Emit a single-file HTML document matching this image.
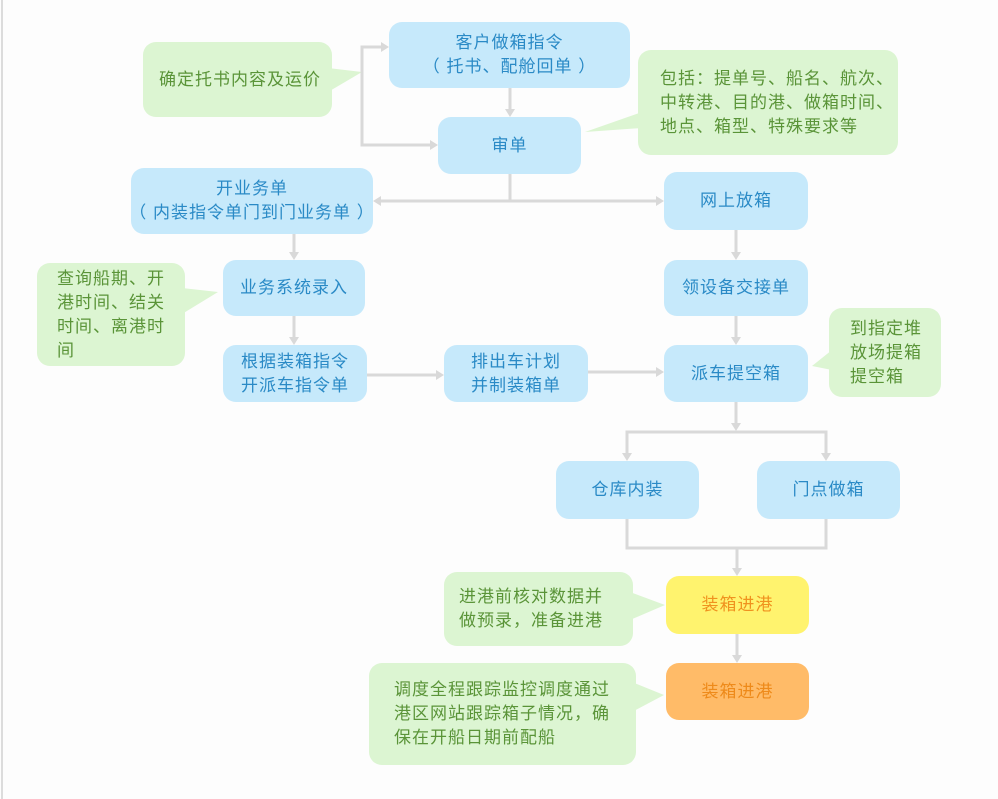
<!DOCTYPE html>
<html><head><meta charset="utf-8"><style>
html,body{margin:0;padding:0;background:#fff;}
#w{position:relative;width:998px;height:799px;overflow:hidden;background:#fdfdfd;font-family:"Liberation Sans","Noto Sans CJK SC",sans-serif;}
.b{position:absolute;display:flex;align-items:center;justify-content:center;text-align:center;border-radius:13px;font-size:17px;letter-spacing:1px;line-height:24px;box-sizing:border-box;white-space:nowrap;}
.n{background:#c6e9fb;color:#2a8ac6;}
.c{background:#dcf5d2;color:#5a9438;text-align:left;justify-content:flex-start;padding-left:16px;}
svg{position:absolute;left:0;top:0;}
</style></head><body><div id="w">
<svg width="998" height="799">
<line x1="2" y1="0" x2="2" y2="799" stroke="#dcdcdc" stroke-width="2"/>
<g fill="#dcf5d2">
<polygon points="328,68 362,72 328,92"/>
<polygon points="642,112 585,132 642,128"/>
<polygon points="182,288 218,292 182,314"/>
<polygon points="832,350 812,366 832,370"/>
<polygon points="630,592 665,605 630,620"/>
<polygon points="632,682 664,695 632,712"/>
</g>
<g stroke="#d9d9d9" stroke-width="3" fill="none">
<polyline points="386,47 362,47 362,145 435,145"/>
<line x1="510" y1="88" x2="510" y2="113"/>
<line x1="510" y1="174" x2="510" y2="201"/>
<line x1="377" y1="201" x2="660" y2="201"/>
<line x1="294" y1="234" x2="294" y2="256"/>
<line x1="294" y1="316" x2="294" y2="341"/>
<line x1="367" y1="375" x2="440" y2="375"/>
<line x1="588" y1="372" x2="660" y2="372"/>
<line x1="736" y1="230" x2="736" y2="256"/>
<line x1="736" y1="316" x2="736" y2="341"/>
<line x1="736" y1="402" x2="736" y2="427"/>
<polyline points="627,457 627,432 826,432 826,457"/>
<polyline points="627,519 627,548 826,548 826,519"/>
<line x1="737" y1="548" x2="737" y2="572"/>
<line x1="737" y1="634" x2="737" y2="659"/>
</g>
<g fill="#d9d9d9">
<polygon points="389,47 381,42 381,52"/>
<polygon points="438,145 430,140 430,150"/>
<polygon points="510,117 505,109 515,109"/>
<polygon points="373,201 381,196 381,206"/>
<polygon points="664,201 656,196 656,206"/>
<polygon points="294,260 289,252 299,252"/>
<polygon points="294,345 289,337 299,337"/>
<polygon points="444,375 436,370 436,380"/>
<polygon points="664,372 656,367 656,377"/>
<polygon points="736,260 731,252 741,252"/>
<polygon points="736,345 731,337 741,337"/>
<polygon points="736,431 731,423 741,423"/>
<polygon points="627,461 622,453 632,453"/>
<polygon points="826,461 821,453 831,453"/>
<polygon points="737,576 732,568 742,568"/>
<polygon points="737,663 732,655 742,655"/>
</g>
</svg>
<div class="b c" style="left:143px;top:42px;width:189px;height:75px;">确定托书内容及运价</div>
<div class="b n" style="left:389px;top:22px;width:241px;height:66px;">客户做箱指令<br>（ 托书、配舱回单 ）</div>
<div class="b n" style="left:438px;top:117px;width:143px;height:57px;">审单</div>
<div class="b c" style="left:638px;top:50px;width:260px;height:105px;padding-left:22px;">包括：提单号、船名、航次、<br>中转港、目的港、做箱时间、<br>地点、箱型、特殊要求等</div>
<div class="b n" style="left:131px;top:168px;width:242px;height:66px;">开业务单<br>（ 内装指令单门到门业务单 ）</div>
<div class="b n" style="left:664px;top:172px;width:144px;height:58px;">网上放箱</div>
<div class="b c" style="left:37px;top:263px;width:148px;height:103px;padding-left:20px;">查询船期、开<br>港时间、结关<br>时间、离港时<br>间</div>
<div class="b n" style="left:223px;top:260px;width:142px;height:56px;">业务系统录入</div>
<div class="b n" style="left:664px;top:260px;width:144px;height:56px;">领设备交接单</div>
<div class="b n" style="left:223px;top:345px;width:144px;height:57px;">根据装箱指令<br>开派车指令单</div>
<div class="b n" style="left:444px;top:345px;width:144px;height:57px;">排出车计划<br>并制装箱单</div>
<div class="b n" style="left:664px;top:345px;width:144px;height:57px;">派车提空箱</div>
<div class="b c" style="left:829px;top:308px;width:112px;height:89px;padding-left:21px;">到指定堆<br>放场提箱<br>提空箱</div>
<div class="b n" style="left:556px;top:461px;width:143px;height:58px;">仓库内装</div>
<div class="b n" style="left:757px;top:461px;width:143px;height:58px;">门点做箱</div>
<div class="b c" style="left:444px;top:572px;width:189px;height:74px;padding-left:15px;">进港前核对数据并<br>做预录，准备进港</div>
<div class="b" style="left:666px;top:576px;width:143px;height:58px;background:#fff36e;color:#f0921e;">装箱进港</div>
<div class="b c" style="left:369px;top:663px;width:267px;height:102px;padding-left:25px;">调度全程跟踪监控调度通过<br>港区网站跟踪箱子情况，确<br>保在开船日期前配船</div>
<div class="b" style="left:666px;top:663px;width:143px;height:57px;background:#ffbb68;color:#ee8a1a;">装箱进港</div>
</div></body></html>
